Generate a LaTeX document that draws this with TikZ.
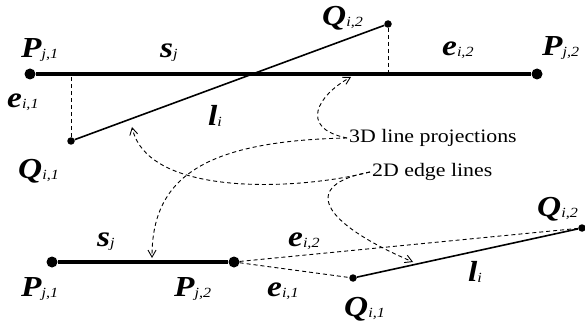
\documentclass[tikz,border=0pt]{standalone}
\usepackage{fontspec}
\setmainfont{Liberation Serif}[FakeStretch=1.15]
\usepackage{tikz}
\usetikzlibrary{arrows.meta}

\newcommand{\lab}[2]{{\fontsize{29}{29}\selectfont\bfseries\itshape #1}\raisebox{-1pt}{\fontsize{14}{14}\selectfont\itshape #2}}

\begin{document}
\begin{tikzpicture}[x=1pt, y=-1pt, every node/.style={inner sep=0pt}, bigdot/.style={circle, fill, minimum size=11pt}, dot/.style={circle, fill, minimum size=7.5pt}, lbl/.style={anchor=base west}, note/.style={anchor=west, inner sep=2pt, font=\fontsize{19}{19}\selectfont}, seg/.style={line width=3.5pt}, lseg/.style={line width=1.6pt}, perp/.style={line width=0.9pt, dash pattern=on 4pt off 3pt}, ptr/.style={line width=0.9pt, dash pattern=on 4pt off 3pt, -{Straight Barb[length=7pt,width=8pt]}}]
\useasboundingbox (0,0) rectangle (585,323);
% upper figure
\node[bigdot] (p1) at (30,74) {};
\node[bigdot] (p2) at (537,74) {};
\node[dot] (q1) at (71,141) {};
\node[dot] (q2) at (388,24) {};
\coordinate (f1) at (q1 |- p1); \coordinate (f2) at (q2 |- p1);
\draw[seg] (p1) -- (p2); \draw[lseg] (q1) -- (q2); \draw[perp] (q1) -- (f1); \draw[perp] (q2) -- (f2);
\node[lbl] (lp1) at (21,58) {\lab{P}{j,1}};
\node[lbl] (ls) at (160,58) {\lab{s}{j}};
\node[lbl] (lq2) at (322,26) {\lab{Q}{i,2}};
\node[lbl] (le2) at (442,56) {\lab{e}{i,2}};
\node[lbl] (lp2) at (542,56) {\lab{P}{j,2}};
\node[lbl] (le1) at (7,108) {\lab{e}{i,1}};
\node[lbl] (ll) at (208,126) {\lab{l}{i}};
\node[lbl] (lq1) at (18,178) {\lab{Q}{i,1}};
% lower figure
\node[bigdot] (bp1) at (52,262) {};
\node[bigdot] (bp2) at (234,262) {};
\node[dot] (bq1) at (353,278) {};
\node[dot] (bq2) at (582,228) {};
\draw[seg] (bp1) -- (bp2); \draw[lseg] (bq1) -- (bq2); \draw[perp] (bp2) -- (bq1); \draw[perp] (bp2) -- (bq2);
\node[lbl] (bls) at (97,246) {\lab{s}{j}};
\node[lbl] (blp1) at (21,296) {\lab{P}{j,1}};
\node[lbl] (blp2) at (174,296) {\lab{P}{j,2}};
\node[lbl] (ble2) at (288,246) {\lab{e}{i,2}};
\node[lbl] (ble1) at (267,296) {\lab{e}{i,1}};
\node[lbl] (blq1) at (344,316) {\lab{Q}{i,1}};
\node[lbl] (blq2) at (537,216) {\lab{Q}{i,2}};
\node[lbl] (bll) at (468,281) {\lab{l}{i}};
% pointers
\node[note] (proj) at (347,138) {3D line projections};
\node[note] (edges) at (370,172) {2D edge lines};
\coordinate (ta) at (351,77); \coordinate (tb) at (152,258); \coordinate (tc) at (132,127); \coordinate (td) at (413,262);
\draw[ptr] (proj.west) .. controls (298,128) and (318,95) .. (ta);
\draw[ptr] (proj.west) .. controls (200,141) and (152,180) .. (tb);
\draw[ptr] (edges.west) .. controls (300,190) and (148,198) .. (tc);
\draw[ptr] (edges.west) .. controls (300,185) and (320,222) .. (td);
\end{tikzpicture}
\end{document}
